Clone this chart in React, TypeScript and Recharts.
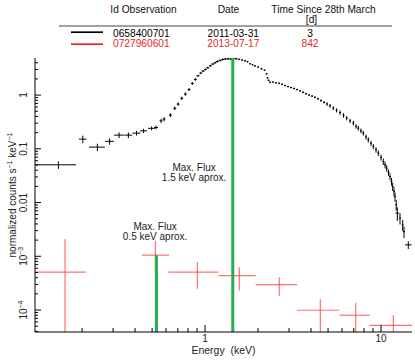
import React from 'react';
import { ComposedChart, Scatter, XAxis, YAxis, ErrorBar, ReferenceLine, ReferenceDot } from 'recharts';

const FONT = '"Liberation Sans", Arial, Helvetica, sans-serif';

// ---- Observation 0658400701 (black) ----
const blackEnergy = [
  0.1467, 0.2019, 0.2443, 0.2867, 0.3246, 0.3665, 0.4081, 0.4472, 0.4966, 0.5268,
  0.5623, 0.5848, 0.6352, 0.6727, 0.7024, 0.7373, 0.7728, 0.8111, 0.8469, 0.8809,
  0.9124, 0.9453, 0.9741, 1.004, 1.036, 1.072, 1.106, 1.14, 1.175, 1.217,
  1.26, 1.304, 1.351, 1.4, 1.448, 1.5, 1.561, 1.623, 1.688, 1.744,
  1.802, 1.862, 1.923, 2.0, 2.094, 2.178, 2.236, 2.265, 2.295, 2.34,
  2.434, 2.532, 2.634, 2.738, 2.848, 2.962, 3.081, 3.204, 3.332, 3.466,
  3.605, 3.749, 3.899, 4.055, 4.217, 4.386, 4.561, 4.745, 4.934, 5.131,
  5.358, 5.588, 5.848, 6.122, 6.385, 6.668, 6.962, 7.211, 7.43, 7.697,
  7.932, 8.218, 8.468, 8.773, 9.042, 9.368, 9.654, 10.0, 10.31, 10.54,
  10.77, 11.03, 11.25, 11.47, 11.65, 11.85, 12.01, 12.2, 12.38, 12.82,
  13.28, 13.51, 14.29,
];
const blackFlux = [
  0.0504, 0.1516, 0.1076, 0.1379, 0.1799, 0.1799, 0.196, 0.2164, 0.2408, 0.2492,
  0.3321, 0.3573, 0.4243, 0.5678, 0.6799, 0.8717, 1.044, 1.271, 1.644, 1.952,
  2.288, 2.569, 2.798, 2.998, 3.224, 3.513, 3.779, 3.996, 4.225, 4.41,
  4.603, 4.683, 4.742, 4.683, 4.742, 4.742, 4.642, 4.486, 4.353, 4.171,
  3.827, 3.666, 3.483, 3.322, 3.089, 2.896, 2.493, 2.1, 1.886, 1.731,
  1.746, 1.695, 1.659, 1.589, 1.509, 1.44, 1.379, 1.327, 1.266, 1.203,
  1.127, 1.057, 1.0, 0.958, 0.91, 0.853, 0.79, 0.734, 0.683, 0.632,
  0.573, 0.521, 0.474, 0.42, 0.373, 0.332, 0.301, 0.262, 0.243, 0.2164,
  0.196, 0.1673, 0.1471, 0.1266, 0.1103, 0.0958, 0.0832, 0.0695, 0.058, 0.0504,
  0.0437, 0.0365, 0.0305, 0.0248, 0.0199, 0.0162, 0.0129, 0.00906, 0.00635, 0.00512,
  0.00384, 0.00288, 0.00163,
];
const blackEnergyErr = [
  0.038, 0.01, 0.0253, 0.0163, 0.0207, 0.019, 0.0212, 0.0205, 0.0225, 0.0138,
  0.011, 0.011, 0.013, 0.013, 0.013, 0.014, 0.014, 0.015, 0.015, 0.016,
  0.017, 0.017, 0.018, 0.018, 0.019, 0.02, 0.02, 0.021, 0.022, 0.022,
  0.023, 0.024, 0.025, 0.025, 0.026, 0.027, 0.02, 0.021, 0.022, 0.023,
  0.023, 0.024, 0.025, 0.026, 0.027, 0.028, 0.029, 0.029, 0.03, 0.03,
  0.032, 0.033, 0.034, 0.036, 0.037, 0.039, 0.04, 0.042, 0.043, 0.045,
  0.047, 0.049, 0.051, 0.053, 0.055, 0.057, 0.059, 0.062, 0.064, 0.067,
  0.07, 0.073, 0.076, 0.08, 0.083, 0.087, 0.09, 0.094, 0.097, 0.1,
  0.103, 0.107, 0.11, 0.114, 0.118, 0.122, 0.126, 0.13, 0.134, 0.137,
  0.14, 0.143, 0.146, 0.149, 0.151, 0.154, 0.156, 0.159, 0.3, 0.17,
  0.17, 0.18, 0.6,
];
const blackFluxErr = [
  0.008, 0.024, 0.017, 0.019, 0.022, 0.022, 0.02, 0.02, 0.02, 0.02,
  0.03, 0.032, 0.035, 0.045, 0.05, 0.06, 0.07, 0.08, 0.1, 0.11,
  0.1, 0.11, 0.12, 0.13, 0.14, 0.15, 0.16, 0.17, 0.18, 0.19,
  0.2, 0.2, 0.2, 0.2, 0.2, 0.2, 0.16, 0.16, 0.15, 0.15,
  0.13, 0.13, 0.12, 0.12, 0.11, 0.1, 0.09, 0.07, 0.07, 0.06,
  0.06, 0.06, 0.06, 0.06, 0.055, 0.05, 0.05, 0.05, 0.045, 0.045,
  0.045, 0.04, 0.04, 0.04, 0.04, 0.04, 0.04, 0.035, 0.05, 0.05,
  0.045, 0.045, 0.045, 0.04, 0.035, 0.03, 0.03, 0.025, 0.025, 0.022,
  0.02, 0.018, 0.016, 0.014, 0.012, 0.011, 0.01, 0.009, 0.008, 0.007,
  0.006, 0.005, 0.0045, 0.004, 0.0035, 0.003, 0.0025, 0.002, 0.0018, 0.0012,
  0.0009, 0.0007, 0.00027,
];

// ---- Observation 0727960601 (red) ----
const redEnergy = [0.16, 0.522, 0.904, 1.566, 2.64, 4.52, 7.18, 11.75];
const redEnergyLow = [0.108, 0.437, 0.618, 1.19, 1.94, 3.33, 5.8, 8.63];
const redEnergyHigh = [0.21, 0.624, 1.19, 1.94, 3.33, 5.8, 8.63, 15];
const redFlux = [5.06e-4, 1.05e-3, 5.06e-4, 4.37e-4, 2.97e-4, 9.9e-5, 8.0e-5, 5.2e-5];
const redFluxLow = [3.9e-5, 5e-4, 2.5e-4, 2.3e-4, 1.85e-4, 3.9e-5, 3.9e-5, 3.9e-5];
const redFluxHigh = [2.09e-3, 1.94e-3, 7.87e-4, 6.27e-4, 4.08e-4, 1.59e-4, 1.35e-4, 8.0e-5];

// ---- Max flux markers ----
const maxFluxEnergy = [1.437, 0.529];
const maxFluxTop = [4.9, 1.05e-3];
const maxFluxLabel1 = ['Max. Flux', 'Max. Flux'];
const maxFluxLabel2 = ['1.5 keV aprox.', '0.5 keV aprox.'];
const maxFluxLabelPos = [
  { x: 0.866, y: 0.0389 },
  { x: 0.52, y: 0.003036 },
];

// ---- Axes ----
const X_DOMAIN = [0.108, 15];
const Y_DOMAIN = [3.9e-5, 4.9];
const xMajorTicks = [1, 10];
const xMajorLabels = ['1', '10'];
const xMinorTicks = [0.2, 0.3, 0.4, 0.5, 0.6, 0.7, 0.8, 0.9, 2, 3, 4, 5, 6, 7, 8, 9];
const yMajorTicks = [1e-4, 1e-3, 0.01, 0.1, 1];
const yMajorBase = ['10', '10', '0.01', '0.1', '1'];
const yMajorExp = ['\u22124', '\u22123', '', '', ''];
const yMinorTicks = [
  4e-5, 5e-5, 6e-5, 7e-5, 8e-5, 9e-5,
  2e-4, 3e-4, 4e-4, 5e-4, 6e-4, 7e-4, 8e-4, 9e-4,
  2e-3, 3e-3, 4e-3, 5e-3, 6e-3, 7e-3, 8e-3, 9e-3,
  0.02, 0.03, 0.04, 0.05, 0.06, 0.07, 0.08, 0.09,
  0.2, 0.3, 0.4, 0.5, 0.6, 0.7, 0.8, 0.9,
  2, 3, 4,
];
const xTicks = [...xMinorTicks, ...xMajorTicks].sort((a, b) => a - b);
const yTicks = [...yMinorTicks, ...yMajorTicks].sort((a, b) => a - b);

// ---- Legend table ----
const legendHeaders = ['Id Observation', 'Date', 'Time Since 28th March'];
const legendIds = ['0658400701', '0727960601'];
const legendDates = ['2011-03-31', '2013-07-17'];
const legendDays = ['3', '842'];
const legendColors = ['#000000', '#e8262b'];

const blackData = blackEnergy.map((e, i) => ({ x: e, y: blackFlux[i], ex: blackEnergyErr[i], ey: blackFluxErr[i] }));
const redData = redEnergy.map((e, i) => ({
  x: e,
  y: redFlux[i],
  ex: [e - redEnergyLow[i], redEnergyHigh[i] - e],
  ey: [redFlux[i] - redFluxLow[i], redFluxHigh[i] - redFlux[i]],
}));

const noShape = () => <g />;

const BottomTick = (props: any) => {
  const { x, y, payload } = props;
  const idx = xMajorTicks.indexOf(payload.value);
  const len = idx >= 0 ? 7 : 4;
  return (
    <g>
      <line x1={x} x2={x} y1={y} y2={y - len} stroke="#000" strokeWidth={1} />
      {idx >= 0 && (
        <text x={x} y={y + 10} textAnchor="middle" fontSize={10} fontFamily={FONT} fill="#222">
          {xMajorLabels[idx]}
        </text>
      )}
    </g>
  );
};

const TopTick = (props: any) => {
  const { x, y, payload } = props;
  const major = xMajorTicks.indexOf(payload.value) >= 0;
  const len = major ? 7 : 4;
  return <line x1={x} x2={x} y1={y} y2={y + len} stroke="#000" strokeWidth={1} />;
};

const LeftTick = (props: any) => {
  const { x, y, payload } = props;
  const idx = yMajorTicks.indexOf(payload.value);
  const len = idx >= 0 ? 6 : 3;
  const lx = x - 7.5;
  return (
    <g>
      <line x1={x} x2={x + len} y1={y} y2={y} stroke="#000" strokeWidth={1} />
      {idx >= 0 && (
        <text
          x={lx}
          y={y}
          transform={`rotate(-90 ${lx} ${y})`}
          textAnchor="middle"
          fontSize={10}
          fontFamily={FONT}
          fill="#222"
        >
          {yMajorBase[idx]}
          {yMajorExp[idx] && (
            <tspan dy={-4} fontSize={7}>
              {yMajorExp[idx]}
            </tspan>
          )}
        </text>
      )}
    </g>
  );
};

const RightTick = (props: any) => {
  const { x, y, payload } = props;
  const major = yMajorTicks.indexOf(payload.value) >= 0;
  const len = major ? 6 : 3;
  return <line x1={x} x2={x - len} y1={y} y2={y} stroke="#000" strokeWidth={1} />;
};

const makeAnnotation = (i: number) => (props: any) => {
  const vb = props.viewBox || {};
  const cx = (vb.x || 0) + (vb.width || 0) / 2;
  const cy = (vb.y || 0) + (vb.height || 0) / 2;
  return (
    <g>
      <text x={cx} y={cy} textAnchor="middle" fontSize={10} fontFamily={FONT} fill="#222">
        {maxFluxLabel1[i]}
      </text>
      <text x={cx} y={cy + 10} textAnchor="middle" fontSize={10} fontFamily={FONT} fill="#222">
        {maxFluxLabel2[i]}
      </text>
    </g>
  );
};

const YLabel = (props: any) => {
  const vb = props.viewBox || {};
  const cy = (vb.y || 0) + (vb.height || 0) / 2;
  const lx = 15.5;
  return (
    <text x={lx} y={cy} transform={`rotate(-90 ${lx} ${cy})`} textAnchor="middle" fontSize={10} fontFamily={FONT} fill="#222">
      normalized counts s<tspan dy={-4} fontSize={7}>{'\u22121'}</tspan>
      <tspan dy={4}> keV</tspan>
      <tspan dy={-4} fontSize={7}>{'\u22121'}</tspan>
    </text>
  );
};

const XLabel = (props: any) => {
  const vb = props.viewBox || {};
  const cx = (vb.x || 0) + (vb.width || 0) / 2;
  return (
    <text x={cx} y={354} textAnchor="middle" fontSize={10.5} fontFamily={FONT} fill="#222" style={{ whiteSpace: 'pre' }}>
      Energy  (keV)
    </text>
  );
};

const Legend = () => (
  <svg width={415} height={56} style={{ position: 'absolute', left: 0, top: 0, pointerEvents: 'none' }}>
    <g fontFamily={FONT} fontSize={10.2} fill="#111">
      <text x={143.5} y={13} textAnchor="middle">{legendHeaders[0]}</text>
      <text x={228.5} y={13} textAnchor="middle">{legendHeaders[1]}</text>
      <text x={323.5} y={13} textAnchor="middle">{legendHeaders[2]}</text>
      <text x={311.5} y={23} textAnchor="middle">[d]</text>
    </g>
    <line x1={59} x2={392} y1={26} y2={26} stroke="#444" strokeWidth={1} />
    {legendIds.map((id, i) => {
      const base = 36.5 + i * 10;
      const ly = 32.2 + i * 12;
      return (
        <g key={id} fontFamily={FONT} fontSize={10.2} fill={legendColors[i]}>
          <line x1={71} x2={103} y1={ly} y2={ly} stroke={legendColors[i]} strokeWidth={1.7} />
          <text x={113} y={base}>{id}</text>
          <text x={233.3} y={base} textAnchor="middle">{legendDates[i]}</text>
          <text x={310} y={base} textAnchor="middle">{legendDays[i]}</text>
        </g>
      );
    })}
  </svg>
);

export default function App() {
  return (
    <div style={{ position: 'absolute', left: 0, top: 0, width: 415, height: 360, background: '#fff' }}>
      <ComposedChart width={415} height={360} margin={{ top: 58, right: 3, bottom: 0, left: 0 }}>
        <XAxis
          xAxisId="b"
          dataKey="x"
          type="number"
          scale="log"
          domain={X_DOMAIN}
          allowDataOverflow
          ticks={xTicks}
          interval={0}
          tick={BottomTick}
          tickLine={false}
          tickSize={0}
          tickMargin={0}
          height={28}
          axisLine={{ stroke: '#000', strokeWidth: 1 }}
          label={XLabel}
        />
        <XAxis
          xAxisId="t"
          orientation="top"
          type="number"
          scale="log"
          domain={X_DOMAIN}
          allowDataOverflow
          ticks={xTicks}
          interval={0}
          tick={TopTick}
          tickLine={false}
          tickSize={0}
          tickMargin={0}
          height={0}
          axisLine={{ stroke: '#000', strokeWidth: 1 }}
        />
        <YAxis
          yAxisId="l"
          dataKey="y"
          type="number"
          scale="log"
          domain={Y_DOMAIN}
          allowDataOverflow
          ticks={yTicks}
          interval={0}
          tick={LeftTick}
          tickLine={false}
          tickSize={0}
          tickMargin={0}
          width={35}
          axisLine={{ stroke: '#000', strokeWidth: 1 }}
          label={YLabel}
        />
        <YAxis
          yAxisId="r"
          orientation="right"
          type="number"
          scale="log"
          domain={Y_DOMAIN}
          allowDataOverflow
          ticks={yTicks}
          interval={0}
          tick={RightTick}
          tickLine={false}
          tickSize={0}
          tickMargin={0}
          width={0}
          axisLine={{ stroke: '#000', strokeWidth: 1 }}
        />
        <Scatter xAxisId="b" yAxisId="l" data={redData} dataKey="y" shape={noShape} isAnimationActive={false}>
          <ErrorBar dataKey="ex" direction="x" width={0} stroke="#ff4040" strokeOpacity={0.75} strokeWidth={1.2} isAnimationActive={false} />
          <ErrorBar dataKey="ey" direction="y" width={0} stroke="#ff4040" strokeOpacity={0.75} strokeWidth={1.2} isAnimationActive={false} />
        </Scatter>
        <Scatter xAxisId="b" yAxisId="l" data={blackData} dataKey="y" shape={noShape} isAnimationActive={false}>
          <ErrorBar dataKey="ex" direction="x" width={0} stroke="#000" strokeWidth={1} isAnimationActive={false} />
          <ErrorBar dataKey="ey" direction="y" width={0} stroke="#000" strokeWidth={1} isAnimationActive={false} />
        </Scatter>
        {maxFluxEnergy.map((e, i) => (
          <ReferenceLine
            key={`g${i}`}
            xAxisId="b"
            yAxisId="l"
            segment={[{ x: e, y: Y_DOMAIN[0] }, { x: e, y: maxFluxTop[i] }]}
            stroke="#22b14c"
            strokeWidth={3}
            ifOverflow="hidden"
          />
        ))}
        {maxFluxLabelPos.map((p, i) => (
          <ReferenceDot
            key={`a${i}`}
            xAxisId="b"
            yAxisId="l"
            x={p.x}
            y={p.y}
            r={0}
            fill="none"
            stroke="none"
            ifOverflow="visible"
            label={makeAnnotation(i)}
          />
        ))}
      </ComposedChart>
      <Legend />
    </div>
  );
}
